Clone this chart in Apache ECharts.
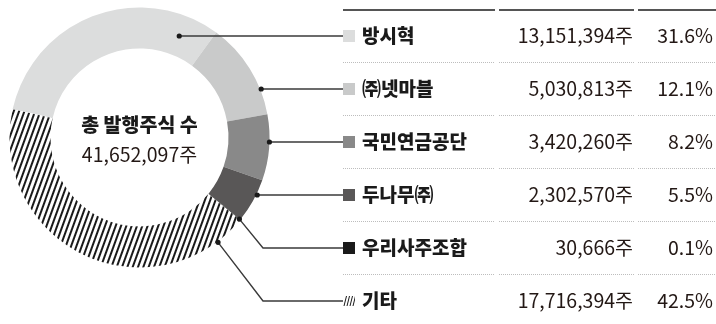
<!DOCTYPE html>
<html>
<head>
<meta charset="utf-8">
<script src="https://cdn.jsdelivr.net/npm/echarts@6/dist/echarts.min.js"></script>
<style>
html, body { margin: 0; padding: 0; background: #fff; }
#chart { width: 716px; height: 324px; }
</style>
</head>
<body>
<div id="chart"></div>
<script>
// 주주 구성
var names = ['방시혁', '㈜넷마블', '국민연금공단', '두나무㈜', '우리사주조합', '기타'];
var shares = [13151394, 5030813, 3420260, 2302570, 30666, 17716394];
var colors = ['#dcdddd', '#c9caca', '#898989', '#595757', '#1a1a1a', '#ffffff'];

var FONT = '"Noto Sans CJK KR", "Noto Sans", sans-serif';
var cx = 139.5, cy = 137.5, r0 = 89, r1 = 130;
var startAngle = 167.5;
var tableX = 343, rowTop = 36, rowGap = 53;
// 지시선 시작점 (반지름, 조각 안 위치 비율; -1 이면 행 높이에 맞춤)
var anchorR = [109, 131, 130, 131, 129, 131];
var anchorT = [-1, -1, -1, -1, 0.5, 0.09];

var total = shares.reduce(function(a, b) { return a + b; }, 0);

function fmt(n) {
    return String(n).replace(/\B(?=(\d{3})+(?!\d))/g, ',');
}

function rowY(i) {
    return rowTop + rowGap * i;
}

// 각 조각의 시작점 계산
function anchorOf(i) {
    var cum = 0;
    for (var k = 0; k < i; k++) cum += shares[k];
    var a0 = startAngle - cum / total * 360;
    var a1 = a0 - shares[i] / total * 360;
    var r = anchorR[i];
    if (anchorT[i] < 0) {
        var dy = rowY(i) - cy;
        return [cx + Math.sqrt(r * r - dy * dy), rowY(i)];
    }
    var ang = (a0 + (a1 - a0) * anchorT[i]) * Math.PI / 180;
    return [cx + r * Math.cos(ang), cy - r * Math.sin(ang)];
}

// 빗금 무늬 아이콘
var hatch = document.createElement('canvas');
hatch.width = 12; hatch.height = 12;
(function() {
    var ctx = hatch.getContext('2d');
    ctx.strokeStyle = '#1a1a1a';
    ctx.lineWidth = 1;
    for (var k = 0; k < 4; k++) {
        ctx.beginPath();
        ctx.moveTo(1 + k * 3, 11);
        ctx.lineTo(3.5 + k * 3, 1);
        ctx.stroke();
    }
})();

var rich = {
    name: { fontFamily: FONT, fontSize: 19, fontWeight: 900, color: '#1a1a1a', width: 143, padding: [0, 0, 0, 7] },
    val: { fontFamily: FONT, fontSize: 19.5, color: '#231815', width: 128, align: 'right' },
    pct: { fontFamily: FONT, fontSize: 19.5, color: '#231815', width: 80, align: 'right' }
};
for (var i = 0; i < names.length; i++) {
    rich['sq' + i] = {
        width: 12,
        height: 12,
        backgroundColor: i === names.length - 1 ? { image: hatch } : colors[i]
    };
}

var data = names.map(function(n, i) {
    var item = { name: n, value: shares[i], itemStyle: { color: colors[i] } };
    if (i === names.length - 1) {
        item.itemStyle.decal = {
            symbol: 'rect',
            color: '#1a1a1a',
            backgroundColor: '#ffffff',
            dashArrayX: [1, 0],
            dashArrayY: [1.1, 2.3],
            rotation: -70 * Math.PI / 180
        };
    }
    return item;
});

var graphics = [];
// 표 윗줄과 점선
var cols = [[343, 495], [499, 634], [638, 716]];
cols.forEach(function(c) {
    graphics.push({
        type: 'line', z: 10,
        shape: { x1: c[0], y1: rowTop - 26, x2: c[1], y2: rowTop - 26 },
        style: { stroke: '#555', lineWidth: 2 }
    });
    for (var k = 0; k < names.length - 1; k++) {
        var y = rowY(k) + 26.5;
        graphics.push({
            type: 'line', z: 10,
            shape: { x1: c[0], y1: y, x2: c[1], y2: y },
            style: { stroke: '#bdbdbd', lineWidth: 1, lineDash: [1, 1] }
        });
    }
});
// 지시선과 점
for (var j = 0; j < names.length; j++) {
    var p = anchorOf(j);
    var y = rowY(j);
    var mid = Math.abs(p[1] - y) < 1 ? [p[0], y] : [263, y];
    graphics.push({
        type: 'polyline', z: 99,
        shape: { points: [p, mid, [tableX, y]] },
        style: { stroke: '#3a3a3a', lineWidth: 1.4, fill: null }
    });
    graphics.push({
        type: 'circle', z: 100,
        shape: { cx: p[0], cy: p[1], r: 2.6 },
        style: { fill: '#1a1a1a' }
    });
}
// 가운데 글자
graphics.push({
    type: 'text', z: 100, x: cx, y: 125,
    style: { text: '총 발행주식 수', font: '900 19.5px ' + FONT, fill: '#1a1a1a', textAlign: 'center', textVerticalAlign: 'middle' }
});
graphics.push({
    type: 'text', z: 100, x: cx, y: 155,
    style: { text: fmt(total) + '주', font: '19.5px ' + FONT, fill: '#231815', textAlign: 'center', textVerticalAlign: 'middle' }
});

var myChart = echarts.init(document.getElementById('chart'));
var option = {
    animation: false,
    series: [{
        type: 'pie',
        center: [cx, cy],
        radius: [r0, r1],
        startAngle: startAngle,
        clockwise: true,
        avoidLabelOverlap: false,
        silent: true,
        data: data,
        label: {
            show: true,
            position: 'outside',
            formatter: function(p) {
                var pct = (p.value / total * 100).toFixed(1);
                return '{sq' + p.dataIndex + '|}{name|' + p.name + '}{val|' + fmt(p.value) + '주}{pct|' + pct + '%}';
            },
            rich: rich
        },
        labelLine: { show: false },
        labelLayout: function(params) {
            return {
                x: tableX,
                y: rowY(params.dataIndex),
                align: 'left',
                verticalAlign: 'middle'
            };
        }
    }],
    graphic: graphics
};
myChart.setOption(option);
</script>
</body>
</html>
